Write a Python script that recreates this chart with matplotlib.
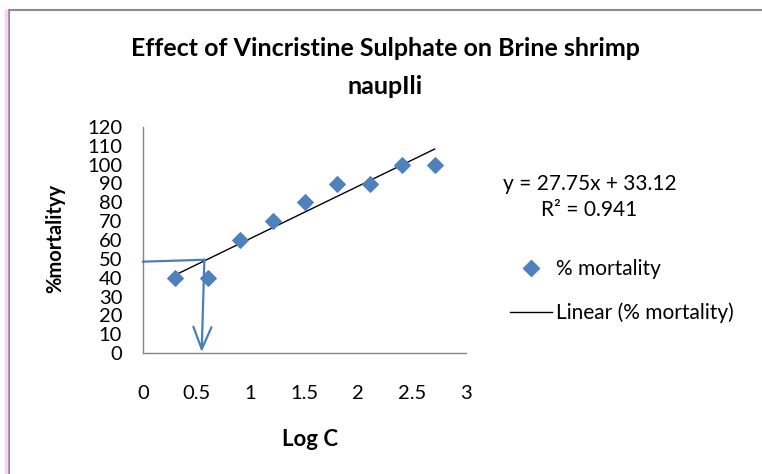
#!/usr/bin/env python3
"""Brine shrimp lethality plot: % mortality vs Log C for vincristine sulphate."""
import matplotlib
matplotlib.use('Agg')
import matplotlib.pyplot as plt
from matplotlib.lines import Line2D
import numpy as np

plt.rcParams.update({
    'font.family': ['Lato', 'DejaVu Sans'],
    'font.size': 14.5,
})

log_c = [0.301, 0.602, 0.903, 1.204, 1.505, 1.806, 2.107, 2.408, 2.709]
mortality = [40, 40, 60, 70, 80, 90, 90, 100, 100]
slope, intercept, r2 = 27.75, 33.12, 0.941

# LC50 read-off lines drawn by hand on the chart
guide_h_x = [0.0, 0.57]
guide_h_y = [48.5, 49.5]
guide_v_x = [0.57, 0.545]
guide_v_y = [49.5, 0.5]

xticks = [0, 0.5, 1, 1.5, 2, 2.5, 3]
yticks = list(range(0, 121, 10))

blue = '#4F81BD'
guide = '#4A7EBB'
axis_grey = '#868686'

fig = plt.figure(figsize=(7.62, 4.74), dpi=100)
ax = fig.add_axes([143 / 762, 1 - 353 / 474, 323 / 762, 226 / 474])

ax.scatter(log_c, mortality, marker='D', s=62, color=blue, zorder=3, label='% mortality')
fit_x = np.array([log_c[0], log_c[-1]])
ax.plot(fit_x, slope * fit_x + intercept, color='black', lw=1.0, zorder=2,
        label='Linear (% mortality)')

ax.plot(guide_h_x, guide_h_y, color=guide, lw=1.6, zorder=4, clip_on=False)
ax.annotate('', xy=(guide_v_x[1], guide_v_y[1]), xytext=(guide_v_x[0], guide_v_y[0]),
            arrowprops=dict(arrowstyle='->,head_length=1.1,head_width=0.45',
                            color=guide, lw=1.6, shrinkA=0, shrinkB=0), zorder=4)

ax.set_xlim(0, 3)
ax.set_ylim(0, 120)
ax.set_xticks(xticks)
ax.set_xticklabels(['0', '0.5', '1', '1.5', '2', '2.5', '3'])
ax.set_yticks(yticks)
ax.tick_params(length=0)
ax.tick_params(axis='x', pad=23)
ax.tick_params(axis='y', pad=15)
for side in ['top', 'right']:
    ax.spines[side].set_visible(False)
for side in ['left', 'bottom']:
    ax.spines[side].set_color(axis_grey)
    ax.spines[side].set_linewidth(1.0)

fig.text(385 / 762, 1 - 48 / 474, 'Effect of Vincristine Sulphate on Brine shrimp',
         ha='center', va='center', fontsize=18, fontweight='bold')
fig.text(385 / 762, 1 - 86 / 474, 'naupIli', ha='center', va='center',
         fontsize=18, fontweight='bold')
fig.text(55 / 762, 1 - 238 / 474, '%mortalityy', rotation=90, ha='center', va='center',
         fontsize=14.5, fontweight='bold')
fig.text(310 / 762, 1 - 440 / 474, 'Log C', ha='center', va='center',
         fontsize=16, fontweight='bold')

fig.text(590 / 762, 1 - 184 / 474, 'y = 27.75x + 33.12', ha='center', va='center',
         fontsize=15)
fig.text(589 / 762, 1 - 210 / 474, 'R\u00b2 = 0.941', ha='center', va='center',
         fontsize=15)

handles = [Line2D([], [], marker='D', ls='none', color=blue, markersize=8),
           Line2D([], [], color='black', lw=1.0)]
fig.legend(handles, ['% mortality', 'Linear (% mortality)'],
           loc='upper left', bbox_to_anchor=(510 / 762, 1 - 259 / 474),
           frameon=False, handlelength=2.0, handletextpad=0.2, fontsize=15,
           labelspacing=1.12, borderpad=0, borderaxespad=0)

# chart border as in the source document
fig.add_artist(Line2D([9 / 762, 1], [1 - 10 / 474] * 2, color='#8c8c8c', lw=1.5,
                      transform=fig.transFigure))
fig.add_artist(Line2D([9 / 762] * 2, [0, 1 - 10 / 474], color='#8c8c8c', lw=1.5,
                      transform=fig.transFigure))
fig.add_artist(Line2D([6 / 762] * 2, [0, 1 - 11 / 474], color='#f8d0f8', lw=2.5,
                      transform=fig.transFigure))

fig.savefig('out.png', dpi=100)
plt.close(fig)
